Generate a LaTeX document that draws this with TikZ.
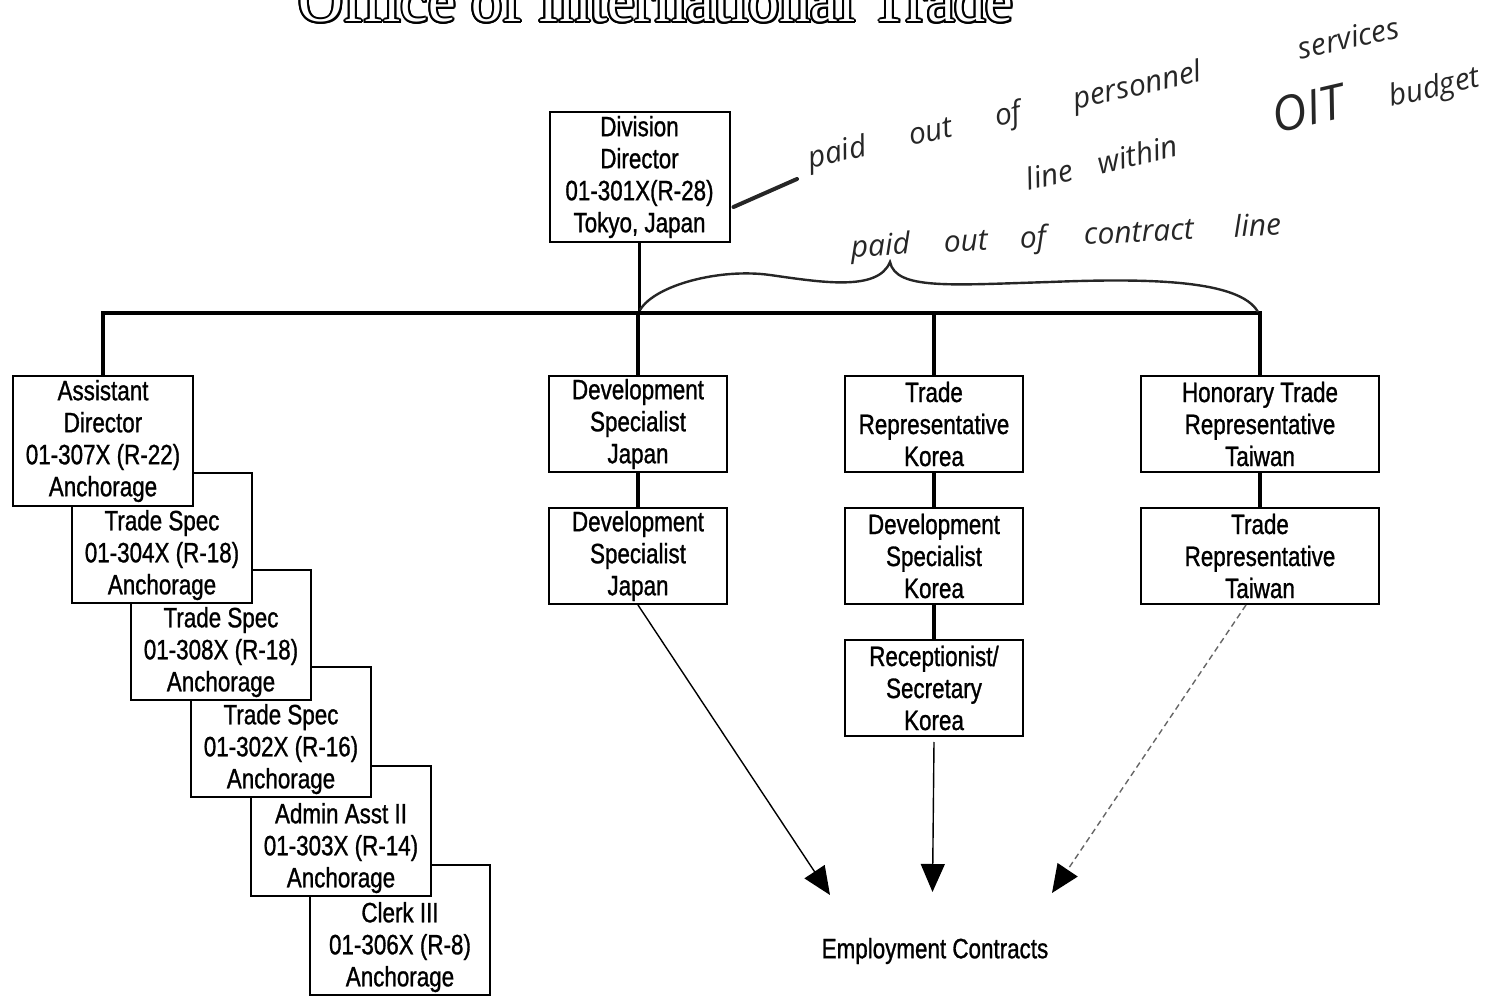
\documentclass[tikz,border=0pt]{standalone}
\usepackage{fontspec}
\setmainfont{Liberation Sans}[FakeStretch=0.8, FakeBold=1]
\newfontfamily\titlefont{Liberation Serif}
\newfontfamily\handfont{Open Sans}
\usepackage{contour}
\contourlength{1pt}
\usetikzlibrary{positioning, arrows.meta, calc}
\tikzset{
  post/.style={
    draw, rectangle, line width=1pt, fill=white, align=center,
    font=\fontsize{14}{16}\selectfont, inner sep=0pt,
    minimum width=89pt, minimum height=48pt
  },
  postTall/.style={post, minimum width=90pt, minimum height=65pt},
  postWide/.style={post, minimum width=119pt},
  % Organisation lines
  orgline/.style={line width=1.7pt},
  % Contract arrows
  contract/.style={
    -{Triangle[length=14pt, width=12pt, color=black]}, line width=0.7pt
  },
  contractFaint/.style={contract, densely dashed, black!60},
  % Handwritten notes
  note/.style={
    font=\handfont\itshape\fontsize{15}{17}\selectfont,
    text=black!85, inner sep=0pt
  },
}

\begin{document}
\begin{tikzpicture}[x=0.5pt, y=-0.5pt]
  \useasboundingbox (0,0) rectangle (1506,1000);

  %% ── Title (cut off at the top) ──
  \node[anchor=base, font=\titlefont\fontsize{31}{31}\selectfont, text=white]
    (title) at (656,22) {\contour{black}{Office of International Trade}};

  %% ── Director ──
  \node[postTall] (dir) at (639.5,177) {Division\\Director\\01-301X(R-28)\\Tokyo, Japan};

  %% ── Anchorage staff (lowest first, top line left free) ──
  \node[postTall] (clerk) at (400,930) {\strut\\Clerk III\\01-306X (R-8)\\Anchorage};
  \node[postTall] (aa2)   at (341,831) {\strut\\Admin Asst II\\01-303X (R-14)\\Anchorage};
  \node[postTall] (ts3)   at (281,732) {\strut\\Trade Spec\\01-302X (R-16)\\Anchorage};
  \node[postTall] (ts2)   at (221,635) {\strut\\Trade Spec\\01-308X (R-18)\\Anchorage};
  \node[postTall] (ts1)   at (162,538) {\strut\\Trade Spec\\01-304X (R-18)\\Anchorage};
  \node[postTall] (ad)    at (103,441) {Assistant\\Director\\01-307X (R-22)\\Anchorage};

  %% ── Overseas offices ──
  \node[post] (dsj1) at (638,424) {Development\\Specialist\\Japan};
  \node[post, below=17pt of dsj1] (dsj2) {Development\\Specialist\\Japan};
  \node[post] (trk) at (934,424) {Trade\\Representative\\Korea};
  \node[post, below=17pt of trk] (dsk) {Development\\Specialist\\Korea};
  \node[post, below=17pt of dsk] (rec) {Receptionist/\\Secretary\\Korea};
  \node[postWide] (htt) at (1260,424) {Honorary Trade\\Representative\\Taiwan};
  \node[postWide, below=17pt of htt] (trt) {Trade\\Representative\\Taiwan};

  %% ── Organisation lines ──
  \coordinate (busL) at (103,313);
  \draw[orgline] (dir.south) -- (dir.south |- busL);
  \draw[orgline] (ad.north) |- (htt.north |- busL) -- (htt.north);
  \draw[orgline] (dsj1.north) -- (dsj1.north |- busL);
  \draw[orgline] (trk.north) -- (trk.north |- busL);
  \draw[orgline] (dsj1) -- (dsj2);
  \draw[orgline] (trk) -- (dsk);
  \draw[orgline] (dsk) -- (rec);
  \draw[orgline] (htt) -- (trt);

  %% ── Employment contracts ──
  \node[font=\fontsize{14}{16}\selectfont] (emp) at (935,951) {Employment Contracts};
  \coordinate (tipL) at (830,895);
  \coordinate (tipM) at (932.5,892);
  \coordinate (tipR) at (1052,893);
  \draw[contract] (dsj2.south) -- (tipL);
  \draw[contract] ([yshift=-2.5pt]rec.south) -- (tipM);
  \draw[contractFaint] ([xshift=-7pt]trt.south) -- (tipR);

  %% ── Handwritten notes ──
  \draw[line width=2pt, black!85, line cap=round] ($(dir.east)+(3,30)$) -- (797,179);
  \node[note, rotate=12.5] (noteA) at (1104,95)
    {paid\hspace{22pt}out\hspace{22pt}of\hspace{27pt}personnel\hspace{50pt}services};
  \node[note, rotate=13] (noteB) at (1252,125)
    {line\hspace{13pt}within\hspace{50pt}{\fontsize{24}{24}\selectfont OIT}\hspace{23pt}budget};
  \node[note, rotate=3] (noteC) at (1066,238)
    {paid\hspace{17pt}out\hspace{16pt}of\hspace{19pt}contract\hspace{20pt}line};
  \draw[line width=1.2pt, black!85]
    (640,310) .. controls (655,285) and (720,268) .. (770,275)
    .. controls (820,282) and (878,292) .. (890,262)
    .. controls (896,290) and (950,285) .. (1050,282)
    .. controls (1150,278) and (1240,280) .. (1258,312);

\end{tikzpicture}
\end{document}
